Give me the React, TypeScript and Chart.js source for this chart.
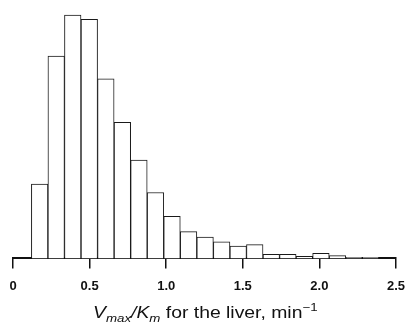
import React, { useEffect, useLayoutEffect, useRef } from "react";
import { Chart, registerables } from "chart.js";

Chart.register(...registerables);

// Histogram bins (bin centres on the x axis)
const binCenters = [
  0.174, 0.282, 0.39, 0.498, 0.606, 0.714, 0.822, 0.93, 1.038, 1.146, 1.254,
  1.362, 1.47, 1.578, 1.686, 1.794, 1.902, 2.01, 2.118, 2.226, 2.334,
];
// Relative frequency of each bin
const frequencies = [
  29.7, 80.8, 97.2, 95.5, 71.7, 54.3, 39.3, 26.3, 16.8, 10.7, 8.5, 6.6, 4.9,
  5.5, 1.6, 1.6, 0.8, 2.0, 1.1, 0.4, 0.4,
];
const xTickValues = [0, 0.5, 1.0, 1.5, 2.0, 2.5];
const xTickLabels = ["0", "0.5", "1.0", "1.5", "2.0", "2.5"];

const TITLE_CENTER_X = 205;
const TITLE_WIDTH = 225;

export default function App() {
  const canvasRef = useRef<HTMLCanvasElement | null>(null);
  const titleRef = useRef<HTMLDivElement | null>(null);

  useEffect(() => {
    const canvas = canvasRef.current;
    if (!canvas) return;
    const chart = new Chart(canvas, {
      type: "bar",
      data: {
        datasets: [
          {
            data: binCenters.map((x, i) => ({ x, y: frequencies[i] })),
            backgroundColor: "#ffffff",
            borderColor: "#1a1a1a",
            borderWidth: 1,
            borderSkipped: "start",
            barPercentage: 1,
            categoryPercentage: 1,
          },
        ],
      },
      options: {
        animation: false,
        responsive: false,
        maintainAspectRatio: false,
        events: [],
        layout: { padding: { left: 13, right: 11, top: 8, bottom: 22 } },
        plugins: {
          legend: { display: false },
          tooltip: { enabled: false },
          title: { display: false },
        },
        scales: {
          x: {
            type: "linear",
            offset: false,
            min: 0,
            max: 2.5,
            afterBuildTicks: (scale: any) => {
              scale.ticks = xTickValues.map((v) => ({ value: v }));
            },
            afterFit: (scale: any) => {
              scale.paddingLeft = 0;
              scale.paddingRight = 0;
            },
            ticks: {
              autoSkip: false,
              maxRotation: 0,
              padding: 10,
              color: "#111",
              font: {
                family: '"Liberation Sans", Arial, sans-serif',
                size: 13,
                weight: "bold",
              },
              callback: (v: any) => {
                const idx = xTickValues.findIndex(
                  (t) => Math.abs(t - Number(v)) < 1e-9
                );
                return idx >= 0 ? xTickLabels[idx] : "";
              },
            },
            grid: {
              offset: false,
              drawOnChartArea: false,
              drawTicks: true,
              tickLength: 10,
              color: "#111",
              lineWidth: 1.5,
            },
            border: { display: true, color: "#111", width: 2 },
          },
          y: {
            display: false,
            min: 0,
            max: 100,
          },
        },
      } as any,
    });
    return () => chart.destroy();
  }, []);

  useLayoutEffect(() => {
    const el = titleRef.current;
    if (!el) return;
    const w = el.offsetWidth;
    if (w > 0) {
      const s = TITLE_WIDTH / w;
      el.style.transform = `scaleX(${s})`;
      el.style.left = `${TITLE_CENTER_X - (w * s) / 2}px`;
    }
  }, []);

  const subStyle: React.CSSProperties = {
    fontSize: 11,
    verticalAlign: "-3.5px",
    lineHeight: 0,
    fontStyle: "italic",
  };
  const supStyle: React.CSSProperties = {
    fontSize: 11,
    verticalAlign: "7px",
    lineHeight: 0,
  };

  return (
    <div
      style={{
        position: "absolute",
        left: 0,
        top: 0,
        width: 407,
        height: 326,
        background: "#ffffff",
        overflow: "hidden",
      }}
    >
      <canvas
        ref={canvasRef}
        width={407}
        height={326}
        style={{ position: "absolute", left: 0, top: 0, width: 407, height: 326 }}
      />
      <div
        ref={titleRef}
        style={{
          position: "absolute",
          left: 110,
          top: 303,
          fontFamily: '"Liberation Sans", Arial, sans-serif',
          fontSize: 16,
          lineHeight: "20px",
          whiteSpace: "nowrap",
          color: "#111",
          transformOrigin: "0 0",
          display: "inline-block",
        }}
      >
        <i>V</i>
        <span style={subStyle}>max</span>
        <i>/K</i>
        <span style={subStyle}>m</span> for the liver, min
        <span style={supStyle}>−1</span>
      </div>
    </div>
  );
}
